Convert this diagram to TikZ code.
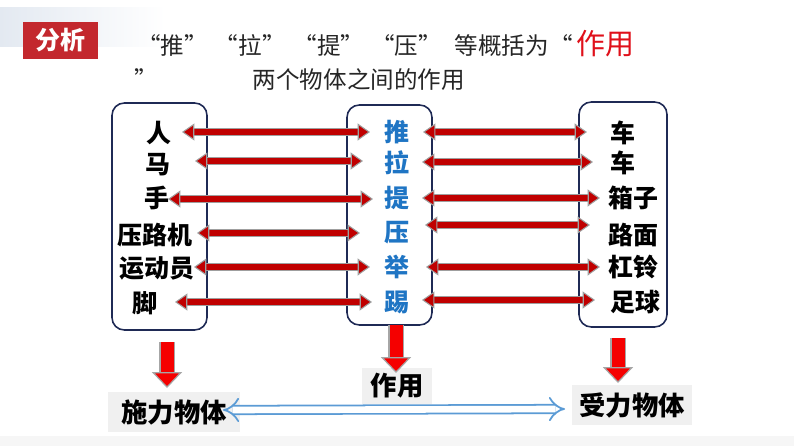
\documentclass[tikz,border=0pt]{standalone}
\usepackage{fontspec}
\setmainfont{Noto Sans CJK SC}
\usetikzlibrary{arrows.meta}

\definecolor{navy}{HTML}{1F2A55}
\definecolor{arrred}{HTML}{C00000}
\definecolor{downred}{HTML}{F50000}
\definecolor{midblue}{HTML}{1F75C4}
\definecolor{linkblue}{HTML}{5B9BD5}
\definecolor{tagred}{HTML}{C3282E}
\definecolor{titred}{HTML}{E0101A}
\definecolor{bandgray}{HTML}{E3E9F1}

\tikzset{
  boxline/.style={draw=navy, line width=0.9pt, rounded corners=7pt, inner sep=0pt},
  word/.style={inner sep=0pt, font=\bfseries\fontsize{14.2pt}{16pt}\selectfont},
  midword/.style={word, text=midblue},
  harr/.style={draw=arrred, line width=3.2pt,
    {Triangle[length=7pt,width=9.6pt,fill=arrred,color=gray!75,line width=0.6pt]}-{Triangle[length=7pt,width=9.6pt,fill=arrred,color=gray!75,line width=0.6pt]},
    preaction={draw=gray!75, line width=4.4pt, -, shorten <=5.5pt, shorten >=5.5pt}},
  varr/.style={draw=downred, line width=7.4pt,
    -{Triangle[length=9pt,width=17pt,fill=downred,color=gray!70,line width=0.7pt]},
    preaction={draw=gray!70, line width=8.6pt, -, shorten >=7pt}},
  tag/.style={fill=gray!12, inner sep=0pt, font=\bfseries\fontsize{15pt}{17pt}\selectfont},
  link/.style={draw=linkblue, double=white, double distance=3.8pt, line width=1pt, {Implies}-{Implies}},
  title/.style={inner sep=0pt, anchor=west, text=black!85, font=\fontsize{13.4pt}{16pt}\selectfont}
}

\begin{document}
\begin{tikzpicture}[x=0.02cm,y=-0.02cm]
    \useasboundingbox (0,0) rectangle (794,446);
    \fill[white] (0,0) rectangle (794,446);
    \fill[left color=bandgray, right color=white] (0,8) rectangle (165,47);
    \fill[gray!7] (0,436) rectangle (794,446);

    % 标题
    \node[fill=tagred, text=white, font=\bfseries\fontsize{14.2pt}{16pt}\selectfont,
          minimum width=1.5cm, minimum height=0.74cm] (fenxi) at (60.5,40.5) {分析};
    \node[title] (t1) at (137,44) {“推”\hspace{0.14cm}“拉”\hspace{0.16cm}“提”\hspace{0.14cm}“压”\hspace{0.26cm}等概括为“\hspace{0.08cm}\textcolor{titred}{\fontsize{16.5pt}{17pt}\selectfont 作用}};
    \node[title] (t2) at (134,80) {”\hspace{1.9cm}两个物体之间的作用};

    % 三个方框
    \node[boxline, minimum width=1.9cm, minimum height=4.54cm] (shibox) at (159.5,216.5) {};
    \node[boxline, minimum width=1.7cm, minimum height=4.4cm] (zuobox) at (389.5,215) {};
    \node[boxline, minimum width=1.76cm, minimum height=4.5cm] (shoubox) at (623,214.5) {};

    % 双向箭头
    \foreach \i/\ya/\xa/\xb/\yb/\xc/\xd in {
        1/132/182/370/132/423/587,
        2/161/195/363/162/422/593,
        3/199/168/373/198/422/600,
        4/233/197/360/225/425/590,
        5/267/194/370/267/426/600,
        6/302/175/372/300/422/595} {
        \coordinate (la\i) at (\xa,\ya);
        \coordinate (lb\i) at (\xb,\ya);
        \coordinate (ra\i) at (\xc,\yb);
        \coordinate (rb\i) at (\xd,\yb);
        \draw[harr] (la\i) -- (lb\i);
        \draw[harr] (ra\i) -- (rb\i);
    }

    % 方框里的字
    \foreach \i/\x/\y/\w in {1/159/133/人,2/158/165/马,3/157/198/手,4/155/235/压路机,5/157/268/运动员,6/145/303/脚}
        \node[word] (shi\i) at (\x,\y) {\w};
    \foreach \i/\y/\w in {1/132/推,2/163/拉,3/198/提,4/233/压,5/267/举,6/302/踢}
        \node[midword] (zuo\i) at (397,\y) {\w};
    \foreach \i/\x/\y/\w in {1/623/133/车,2/623/163/车,3/633/198/箱子,4/633/235/路面,5/633/267/杠铃,6/635/302/足球}
        \node[word] (shou\i) at (\x,\y) {\w};

    % 下方标签
    \node[tag, minimum width=2.64cm, minimum height=0.8cm] (shili) at (174,412) {施力物体};
    \node[tag, minimum width=1.4cm, minimum height=0.72cm] (zuoyong) at (397,386) {作用};
    \node[tag, minimum width=2.42cm, minimum height=0.8cm] (shouli) at (632,405) {受力物体};

    % 向下箭头
    \foreach \i/\x/\ya/\yb in {1/167/342/388,2/396/325/373,3/618/338/383} {
        \coordinate (da\i) at (\x,\ya);
        \coordinate (db\i) at (\x,\yb);
        \draw[varr] (da\i) -- (db\i);
    }

    % 施力物体与受力物体
    \coordinate (lk1) at (223,410);
    \coordinate (lk2) at (565,409);
    \draw[link] (lk1) -- (lk2);
\end{tikzpicture}
\end{document}
